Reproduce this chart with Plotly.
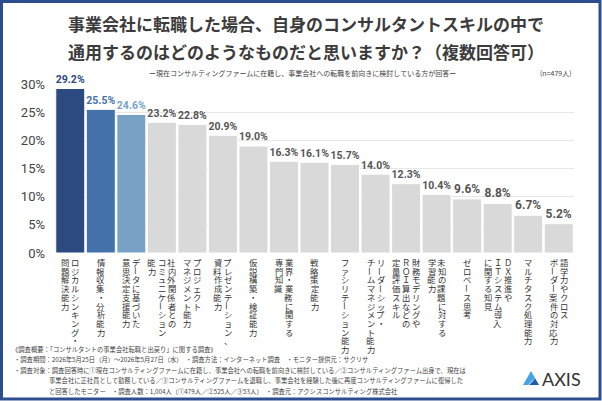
import plotly.graph_objects as go

# ---------------- data ----------------
label_columns = [
    ["ロジカルシンキング・", "問題解決能力"],
    ["情報収集・分析能力"],
    ["データに基づいた", "意思決定支援能力"],
    ["社内外関係者との", "コミュニケーション", "能力"],
    ["プロジェクト", "マネジメント能力"],
    ["プレゼンテーション、", "資料作成能力"],
    ["仮説構築・検証能力"],
    ["業界・業務に関する", "専門知識"],
    ["戦略策定能力"],
    ["ファシリテーション能力"],
    ["リーダーシップ・", "チームマネジメント能力"],
    ["財務モデリングや", "ＲＯＩ算出などの", "定量評価スキル"],
    ["未知の課題に対する", "学習能力"],
    ["ゼロベース思考"],
    ["ＤＸ推進や", "ＩＴシステム導入", "に関する知見"],
    ["マルチタスク処理能力"],
    ["語学力やクロス", "ボーダー案件の対応力"],
]
values = [29.2, 25.5, 24.6, 23.2, 22.8, 20.9, 19.0, 16.3, 16.1, 15.7,
          14.0, 12.3, 10.4, 9.6, 8.8, 6.7, 5.2]
y_ticks = [0, 5, 10, 15, 20, 25, 30]
y_tick_labels = ["0%", "5%", "10%", "15%", "20%", "25%", "30%"]

title_lines = ["事業会社に転職した場合、自身のコンサルタントスキルの中で",
               "通用するのはどのようなものだと思いますか？（複数回答可）"]
subtitle = "ー現在コンサルティングファームに在籍し、事業会社への転職を前向きに検討している方が回答ー"
n_note = "(n=479人)"
footnotes = [
    "《調査概要：「コンサルタントの事業会社転職と出戻り」に関する調査》",
    "・調査期間：2026年5月25日（月）～2026年5月27日（水）　・調査方法：インターネット調査　・モニター提供元：サクリサ",
    "・調査対象：調査回答時に①現在コンサルティングファームに在籍し、事業会社への転職を前向きに検討している／②コンサルティングファーム出身で、現在は",
    "事業会社に正社員として勤務している／③コンサルティングファームを退職し、事業会社を経験した後に再度コンサルティングファームに復帰した",
    "と回答したモニター　・調査人数：1,004人（①479人／②525人／③53人）　・調査元：アクシスコンサルティング株式会社",
]

# ---------------- styling ----------------
W, H = 602, 401
L, R, T, B = 55, 28, 84, 148
PW, PH = W - L - R, H - T - B

def px(x):
    return (x - L) / PW

def py(y):
    return (H - B - y) / PH

categories = ["".join(c) for c in label_columns]
highlight = ["#2c4a7f", "#4471a9", "#77a2c6"]
bar_colors = [highlight[i] if i < 3 else "#d9d9d9" for i in range(len(values))]
text_colors = [highlight[i] if i < 3 else "#555555" for i in range(len(values))]

JP = "Noto Sans CJK JP"
NUM = "Roboto"

fig = go.Figure()
fig.add_trace(go.Bar(
    x=categories, y=values,
    marker=dict(color=bar_colors, line=dict(color="white", width=1)),
    texttemplate="%{y:.1f}%", textposition="outside",
    textfont=dict(family=NUM, size=12, color=text_colors, weight="bold"),
    cliponaxis=False, hoverinfo="skip",
))

annotations = []
# vertical category labels, one character per annotation
pitch = 8.7
first_y = 262
col_gap = 10
for ci, cols in enumerate(label_columns):
    n = len(cols)
    for j, col in enumerate(cols):
        xoff = ((n - 1) / 2 - j) * col_gap
        for k, ch in enumerate(col):
            yc = first_y + k * pitch
            annotations.append(dict(
                x=categories[ci], xref="x", xshift=xoff,
                y=py(yc), yref="paper", yanchor="middle", xanchor="center",
                text=ch, showarrow=False,
                textangle=90 if ch == "ー" else 0,
                font=dict(family=JP, size=8.3, color="#333333"),
            ))

# titles
for i, line in enumerate(title_lines):
    annotations.append(dict(
        x=px(306), y=py(24 + i * 28), xref="paper", yref="paper",
        xanchor="center", yanchor="middle", text="<b>" + line + "</b>", showarrow=False,
        font=dict(family=JP, size=17, color="#3c3c3c"),
    ))
annotations.append(dict(
    x=px(302), y=py(73), xref="paper", yref="paper", xanchor="center", yanchor="middle",
    text=subtitle, showarrow=False, font=dict(family=JP, size=7, color="#444444"),
))
annotations.append(dict(
    x=px(574), y=py(73), xref="paper", yref="paper", xanchor="right", yanchor="middle",
    text=n_note, showarrow=False, font=dict(family=JP, size=7, color="#444444"),
))
# footnotes
foot_y = [349, 359.5, 370, 380.5, 391]
foot_x = [10, 12, 12, 47, 47]
for fx, fy, t in zip(foot_x, foot_y, footnotes):
    annotations.append(dict(
        x=px(fx), y=py(fy), xref="paper", yref="paper", xanchor="left", yanchor="middle",
        text=t, showarrow=False, font=dict(family=JP, size=6.3, color="#444444"),
    ))
# AXIS logo text
annotations.append(dict(
    x=px(540), y=py(379), xref="paper", yref="paper", xanchor="left", yanchor="middle",
    text="AXIS", showarrow=False, font=dict(family="Lato", size=18, color="#333333"),
))

def path(points):
    return "M " + " L ".join(f"{px(a):.5f},{py(b):.5f}" for a, b in points) + " Z"

shapes = [
    # frame
    dict(type="rect", xref="paper", yref="paper",
         x0=px(1.5), x1=px(W - 2), y0=py(H - 2), y1=py(1.5),
         line=dict(color="#2d4e8e", width=3), fillcolor="rgba(0,0,0,0)", layer="above"),
    # logo icon
    dict(type="path", xref="paper", yref="paper",
         path=path([(523, 385), (531, 371), (535, 378), (528, 385)]),
         fillcolor="#46a4e4", line=dict(width=0)),
    dict(type="path", xref="paper", yref="paper",
         path=path([(531, 371), (539, 385), (529, 385), (533, 381), (535, 378)]),
         fillcolor="#1d5fae", line=dict(width=0)),
]

fig.update_layout(
    width=W, height=H,
    margin=dict(l=L, r=R, t=T, b=B, pad=0),
    paper_bgcolor="white", plot_bgcolor="white",
    showlegend=False, bargap=0.05,
    annotations=annotations, shapes=shapes,
    font=dict(family=JP),
    xaxis=dict(showticklabels=False, showgrid=False, zeroline=False, showline=False,
               range=[-0.5, len(values) - 0.5], fixedrange=True),
    yaxis=dict(range=[0, 30], tickvals=y_ticks, ticktext=y_tick_labels,
               showgrid=True, gridcolor="#e6e6e6", gridwidth=1, zeroline=False,
               showline=False, ticks="", ticklabelstandoff=9,
               tickfont=dict(family=NUM, size=13, color="#444444"), fixedrange=True),
)

fig.write_html("out.html",
               config={"displayModeBar": False},
               post_script="document.body.style.margin='0';document.body.style.overflow='hidden';")
